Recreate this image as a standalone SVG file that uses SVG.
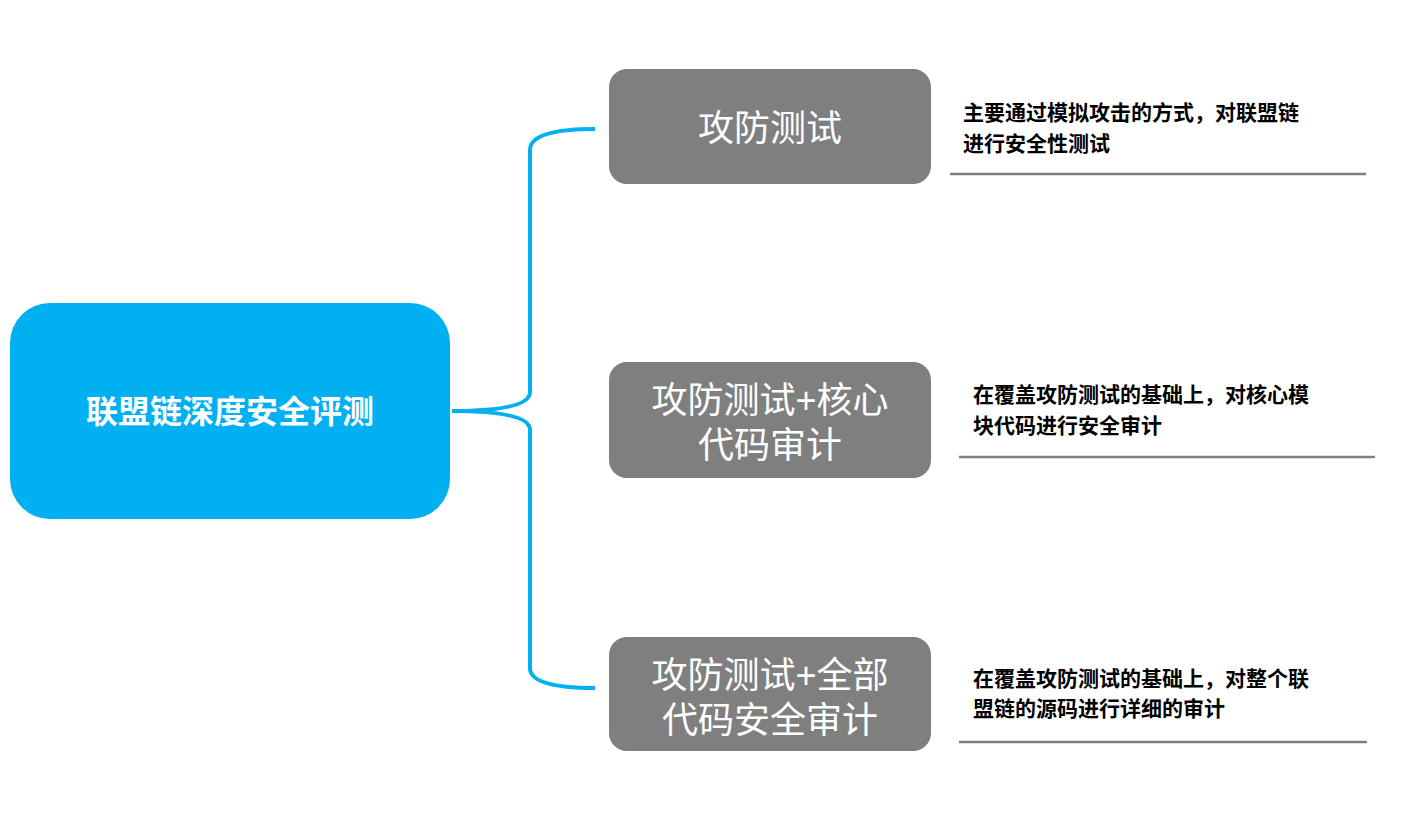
<svg xmlns="http://www.w3.org/2000/svg" width="1422" height="828" viewBox="0 0 1422 828">
<style>
.g{fill:#7F7F7F}
.gt{font-family:"Liberation Sans","Noto Sans CJK SC",sans-serif;font-size:36px;fill:#fff;text-anchor:middle}
.d{font-family:"Liberation Sans","Noto Sans CJK SC",sans-serif;font-size:21px;fill:#000;font-weight:bold}
.ul{stroke:#7F7F7F;stroke-width:2.5}
</style>
<rect width="1422" height="828" fill="#fff"/>
<g id="connectors" fill="none" stroke="#00B0F0" stroke-width="4">
<path d="M595,129 Q530,129 530,150 L530,392 Q530,411 452,411 Q530,411 530,430 L530,668 Q530,688 595,688"/>
</g>
<g id="main"><rect x="10" y="303" width="440" height="216" rx="40" fill="#00B0F0"/>
<text x="230" y="423" text-anchor="middle" font-family="Liberation Sans,Noto Sans CJK SC,sans-serif" font-size="32" font-weight="bold" fill="#fff">联盟链深度安全评测</text></g>
<g id="n1"><rect class="g" x="609" y="69" width="322" height="115" rx="18"/><text class="gt" x="770" y="141">攻防测试</text></g>
<g id="n2"><rect class="g" x="609" y="362" width="322" height="116" rx="18"/><text class="gt" x="770" y="413">攻防测试+核心</text><text class="gt" x="770" y="458">代码审计</text></g>
<g id="n3"><rect class="g" x="609" y="637" width="322" height="114" rx="18"/><text class="gt" x="770" y="688">攻防测试+全部</text><text class="gt" x="770" y="733">代码安全审计</text></g>
<g id="d1"><text class="d" x="963" y="120">主要通过模拟攻击的方式，对联盟链</text><text class="d" x="963" y="151">进行安全性测试</text><line class="ul" x1="950" y1="174" x2="1366" y2="174"/></g>
<g id="d2"><text class="d" x="973" y="402">在覆盖攻防测试的基础上，对核心模</text><text class="d" x="973" y="433">块代码进行安全审计</text><line class="ul" x1="959" y1="457" x2="1375" y2="457"/></g>
<g id="d3"><text class="d" x="973" y="686">在覆盖攻防测试的基础上，对整个联</text><text class="d" x="973" y="716">盟链的源码进行详细的审计</text><line class="ul" x1="959" y1="742" x2="1367" y2="742"/></g>
</svg>
